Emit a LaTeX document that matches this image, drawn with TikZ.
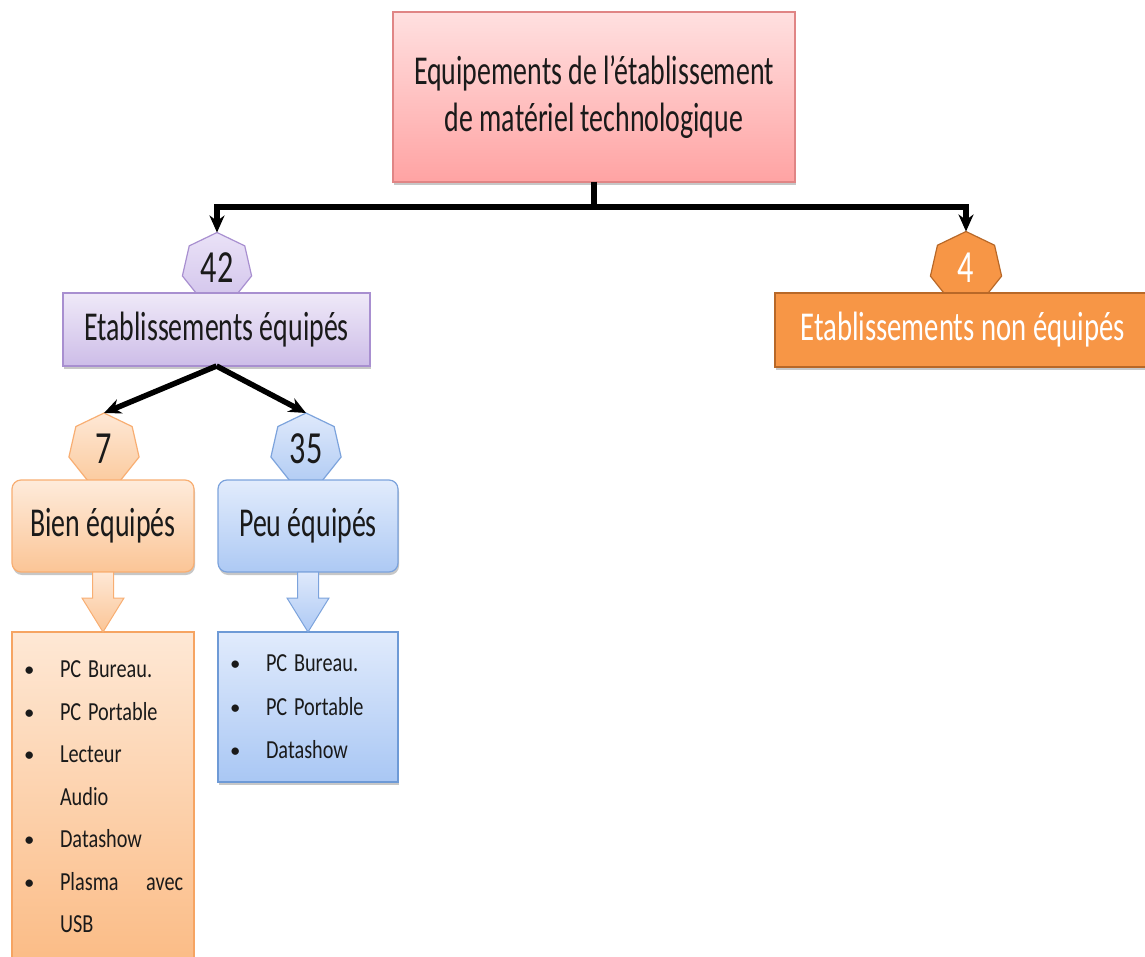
\documentclass[tikz,border=0pt]{standalone}
\usepackage{fontspec}
\setmainfont{Carlito}
\usetikzlibrary{shapes.geometric,arrows.meta,shadows,calc}
\newcommand\sqz[2][0.68]{\scalebox{#1}[1]{#2}}
\newcommand\blt{\makebox[36pt][l]{\raisebox{1pt}{\scalebox{0.8}{\textbullet}}}}
\newcommand\ind{\hspace*{36pt}}
\newcommand\barrow[3]{\path[#3] let \p1=(#1.south), \p2=(#2.north) in
  (\x1-10.5pt,\y1) -- (\x1-10.5pt,\y2+34pt) -- (\x1-21pt,\y2+34pt) -- (\x1,\y2)
  -- (\x1+21pt,\y2+34pt) -- (\x1+10.5pt,\y2+34pt) -- (\x1+10.5pt,\y1) -- cycle;}
\definecolor{pinkT}{HTML}{FFE0E0}\definecolor{pinkB}{HTML}{FFA3A3}\definecolor{pinkD}{HTML}{E08585}
\definecolor{lavT}{HTML}{EFE9F8}\definecolor{lavB}{HTML}{CDBDE8}\definecolor{lavD}{HTML}{A88FD0}
\definecolor{lavHT}{HTML}{EAE2F7}\definecolor{lavHB}{HTML}{D3C5EC}
\definecolor{orF}{HTML}{F79646}\definecolor{orD}{HTML}{B86828}
\definecolor{peT}{HTML}{FEEBDB}\definecolor{peB}{HTML}{FBC596}\definecolor{peD}{HTML}{F8AE72}
\definecolor{peHT}{HTML}{FEE8D6}\definecolor{peHB}{HTML}{FBCB9F}
\definecolor{blT}{HTML}{E2ECFC}\definecolor{blB}{HTML}{ADC9F4}\definecolor{blD}{HTML}{7CA3DC}
\definecolor{blHT}{HTML}{DFE9FB}\definecolor{blHB}{HTML}{B3CDF4}
\definecolor{loT}{HTML}{FEE8D5}\definecolor{loB}{HTML}{FBBC86}\definecolor{loD}{HTML}{F6A462}
\definecolor{lbT}{HTML}{E1EBFC}\definecolor{lbB}{HTML}{A9C7F4}\definecolor{lbD}{HTML}{6E9AD6}
\definecolor{txt}{HTML}{1A1A1A}
\begin{document}
\begin{tikzpicture}[x=1pt,y=-1pt,
  box/.style={rectangle, inner sep=0pt, outer sep=0pt, line width=1.2pt, text=txt, align=center,
    font=\fontsize{41}{47}\selectfont,
    drop shadow={shadow xshift=1pt, shadow yshift=-3pt, opacity=0.22, fill=black}},
  hept/.style={regular polygon, regular polygon sides=7, inner sep=0pt, outer sep=0pt,
    line width=1.2pt, text=txt, font=\fontsize{46}{50}\selectfont},
  conn/.style={line width=5.5pt, black, -{Stealth[length=17pt,width=15pt]}},
  listbox/.style={rectangle, outer sep=0pt, inner xsep=12pt, inner ysep=0pt, line width=1.2pt,
    text=txt, align=left, drop shadow={shadow xshift=1pt, shadow yshift=-3pt, opacity=0.22, fill=black}},
  blockO/.style={draw=peD, line width=1pt, top color=peHT, bottom color=peB},
  blockB/.style={draw=blD, line width=1pt, top color=blHT, bottom color=blB}]
\useasboundingbox (0,0) rectangle (1145,957);

% headings
\node[box, draw=pinkD, top color=pinkT, bottom color=pinkB, minimum width=402, minimum height=170] (root) at (594,97)
  {\sqz{Equipements de l’établissement}\\\sqz{de matériel technologique}};

\node[hept, draw=lavD, top color=lavHT, bottom color=lavHB, minimum size=71] (h42) at (217,268) {\sqz[0.7]{42}};
\node[hept, draw=orD, fill=orF, text=white, minimum size=73] (h4) at (966,268) {\sqz[0.7]{4}};
\node[box, draw=lavD, top color=lavT, bottom color=lavB, minimum width=307, minimum height=73] (eq) at (216.5,329.5)
  {\sqz{Etablissements équipés}};
\node[box, draw=orD, fill=orF, text=white, minimum width=375, minimum height=74] (neq) at (962.5,330)
  {\sqz[0.7]{Etablissements non équipés}};

\node[hept, draw=peD, top color=peHT, bottom color=peHB, minimum size=72] (h7) at (104,449) {\sqz[0.7]{7}};
\node[hept, draw=blD, top color=blHT, bottom color=blHB, minimum size=72] (h35) at (306,449) {\sqz[0.7]{35}};
\node[box, rounded corners=9pt, draw=peD, top color=peT, bottom color=peB, minimum width=182, minimum height=92] (bien) at (103,526)
  {\sqz{Bien équipés}};
\node[box, rounded corners=9pt, draw=blD, top color=blT, bottom color=blB, minimum width=180, minimum height=92] (peu) at (308,526)
  {\sqz{Peu équipés}};

% lists
\node[listbox, draw=loD, top color=loT, bottom color=loB, minimum width=182, minimum height=330, text width=158,
  font=\fontsize{26}{42.5}\selectfont] (lo) at (103,797)
  {\blt\sqz[0.78]{PC Bureau.}\\
   \blt\sqz[0.78]{PC Portable}\\
   \blt\sqz[0.78]{Lecteur}\\
   \ind\sqz[0.78]{Audio}\\
   \blt\sqz[0.78]{Datashow}\\
   \blt\sqz[0.78]{\hbox to 158pt{Plasma\hfill avec}}\\
   \ind\sqz[0.78]{USB}};
\node[listbox, draw=lbD, top color=lbT, bottom color=lbB, minimum width=180, minimum height=150, text width=156,
  font=\fontsize{26}{43.5}\selectfont] (lb) at (308,707)
  {\blt\sqz[0.78]{PC Bureau.}\\
   \blt\sqz[0.78]{PC Portable}\\
   \blt\sqz[0.78]{Datashow}};

% connectors
\draw[conn] (root.south) -- ++(0,25) -| (h42.north);
\draw[conn] (root.south) -- ++(0,25) -| (h4.north);
\draw[conn] (eq.south) -- (h7.north);
\draw[conn] (eq.south) -- (h35.north);

\barrow{bien}{lo}{blockO}
\barrow{peu}{lb}{blockB}
\end{tikzpicture}
\end{document}
